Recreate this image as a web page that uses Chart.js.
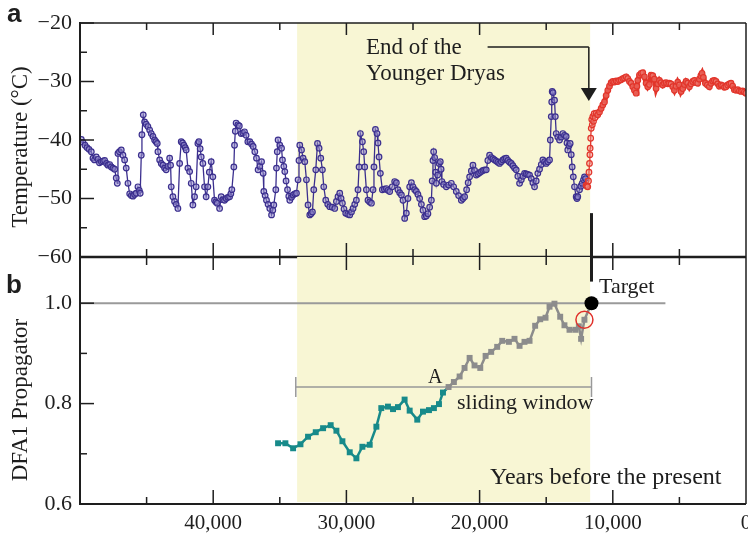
<!DOCTYPE html>
<html>
<head>
<meta charset="utf-8">
<script src="https://cdn.jsdelivr.net/npm/chart.js@4.4.1/dist/chart.umd.min.js"></script>
<style>
  html, body { margin: 0; padding: 0; background: #fff; }
  #wrap { position: relative; width: 748px; height: 534px; }
  #wrap canvas { position: absolute; left: 0; top: 0; }
</style>
</head>
<body>
<div id="wrap">
  <canvas id="tempChart" width="748" height="534"></canvas>
  <canvas id="dfaChart" width="748" height="534"></canvas>
</div>
<script>
/* =========================
   Data (years before present)
========================= */
const blueYears = [49900,49775,49625,49475,49325,49150,49025,48910,48780,48650,48540,48400,48275,48150,48010,47900,47770,47650,47525,47400,47280,47200,47150,47040,46900,46775,46650,46530,46400,46270,46150,46025,45900,45780,45650,45550,45480,45400,45350,45250,45150,45030,44900,44770,44650,44525,44400,44300,44200,44150,44020,43900,43775,43650,43530,43400,43270,43200,43150,43025,42900,42780,42650,42520,42400,42300,42200,42100,42030,41900,41770,41650,41525,41400,41280,41150,41075,40980,40900,40775,40650,40530,40400,40290,40150,40025,39900,39800,39700,39520,39400,39275,39150,39030,38900,38770,38675,38600,38450,38400,38340,38280,38150,38040,37900,37775,37650,37530,37400,37250,37120,37000,36875,36750,36630,36500,36370,36250,36200,36100,36000,35880,35750,35620,35525,35450,35300,35250,35190,35130,35000,34870,34800,34700,34625,34530,34420,34325,34250,34120,34000,33875,33750,33630,33560,33500,33370,33250,33125,33000,32880,32750,32650,32550,32450,32300,32170,32050,31925,31800,31700,31550,31400,31250,31060,30875,30750,30630,30500,30400,30300,30180,30050,29900,29750,29620,29500,29375,29250,29130,29050,28950,28800,28700,28625,28500,28380,28250,28120,28000,27930,27820,27700,27630,27550,27450,27300,27150,27000,26880,26750,26560,26375,26250,26130,26000,25870,25750,25625,25500,25380,25250,25120,25000,24875,24750,24630,24500,24370,24250,24125,24000,23880,23750,23620,23560,23500,23450,23375,23300,23250,23150,23040,22950,22890,22830,22700,22500,22325,22120,21950,21750,21575,21370,21250,21125,20975,20860,20750,20620,20500,20375,20250,20130,20000,19870,19750,19625,19500,19380,19250,19120,19000,18875,18750,18630,18500,18370,18250,18125,18000,17880,17750,17620,17500,17375,17250,17130,17000,16870,16750,16625,16500,16380,16250,16120,16000,15875,15750,15630,15500,15370,15250,15125,15000,14880,14750,14690,14620,14585,14550,14490,14375,14315,14250,14130,14000,13870,13750,13625,13500,13440,13380,13290,13200,13120,13050,12965,12875,12750,12690,12630,12500,12400,12300,12200,12125,12050];
const blueTemps = [-39.9,-40.4,-40.9,-41.3,-41.6,-42.0,-43.1,-43.4,-42.9,-43.3,-43.9,-43.7,-43.6,-43.5,-44.0,-44.3,-44.2,-44.6,-44.8,-45.0,-46.5,-47.4,-42.3,-42.0,-41.7,-42.6,-43.4,-44.8,-47.4,-49.2,-49.5,-49.6,-49.3,-49.1,-48.0,-48.6,-49.1,-42.6,-39.1,-35.7,-36.9,-37.3,-37.7,-38.3,-38.9,-39.4,-40.0,-40.3,-40.6,-42.0,-43.4,-44.0,-44.3,-44.8,-45.1,-44.5,-43.1,-44.3,-48.0,-49.7,-50.5,-51.0,-51.7,-44.0,-40.3,-40.5,-40.9,-41.3,-41.7,-44.8,-45.4,-47.4,-51.1,-49.7,-48.0,-40.6,-40.3,-41.5,-42.9,-44.0,-48.0,-49.7,-48.0,-45.5,-43.7,-46.3,-50.3,-50.6,-50.8,-51.7,-49.7,-50.2,-50.3,-50.0,-49.8,-49.7,-49.2,-48.5,-44.6,-40.9,-38.5,-37.1,-37.4,-37.6,-38.9,-38.8,-38.6,-39.2,-40.3,-40.3,-40.7,-41.1,-42.0,-43.1,-45.1,-44.5,-43.7,-45.7,-48.8,-49.5,-50.3,-51.0,-51.7,-52.8,-52.0,-51.1,-48.5,-44.8,-42.0,-40.0,-40.9,-41.4,-43.4,-44.5,-45.4,-47.0,-48.5,-49.6,-50.3,-49.8,-49.4,-49.2,-49.1,-46.8,-43.5,-40.9,-41.7,-43.1,-43.7,-46.8,-51.1,-52.8,-52.6,-52.3,-48.5,-45.1,-40.6,-41.4,-43.1,-45.1,-48.0,-50.3,-51.0,-51.4,-51.5,-51.7,-50.5,-49.7,-49.1,-50.0,-50.8,-51.8,-52.5,-52.7,-52.8,-52.3,-51.7,-51.0,-50.3,-48.5,-44.6,-38.9,-40.3,-42.0,-44.6,-48.5,-50.3,-50.6,-50.8,-48.5,-44.6,-38.2,-38.9,-40.5,-42.9,-45.7,-48.5,-48.4,-48.3,-48.6,-48.8,-48.0,-47.1,-47.3,-48.5,-49.0,-49.4,-50.3,-53.4,-52.5,-50.0,-48.0,-47.3,-48.0,-48.5,-48.8,-49.3,-50.0,-51.0,-52.0,-53.1,-53.0,-52.6,-51.5,-50.3,-47.0,-43.5,-42.0,-43.0,-45.5,-47.4,-46.0,-44.0,-43.7,-45.0,-47.1,-47.6,-48.0,-47.7,-47.4,-48.0,-48.8,-49.5,-50.3,-50.0,-49.7,-48.5,-47.3,-46.3,-45.3,-44.3,-45.2,-46.0,-45.8,-45.6,-45.4,-45.2,-45.1,-45.1,-43.5,-42.6,-43.0,-43.2,-43.4,-43.6,-43.8,-44.0,-43.7,-43.4,-43.2,-43.1,-43.5,-43.8,-44.0,-44.4,-44.8,-45.1,-46.2,-47.4,-46.8,-46.2,-45.7,-45.8,-45.9,-46.0,-46.6,-47.3,-48.0,-47.0,-45.7,-45.0,-44.2,-43.4,-43.7,-44.0,-43.7,-43.4,-40.0,-36.0,-33.5,-31.7,-31.9,-33.2,-36.0,-38.9,-39.5,-40.0,-39.5,-38.9,-39.2,-39.4,-40.5,-41.7,-41.0,-40.6,-42.5,-44.6,-46.3,-48.0,-49.7,-50.0,-49.7,-48.5,-47.9,-47.4,-46.8,-46.3,-46.6];

const redYears = [12000,11940,11880,11825,11790,11750,11720,11700,11660,11620,11580,11540,11500,11450,11400,11340,11250,11130,11000,10875,10750,10625,10500,10375,10250,10125,10000,9875,9750,9625,9500,9375,9250,9125,9000,8875,8750,8625,8500,8375,8250,8190,8125,8000,7875,7750,7625,7500,7375,7250,7125,7000,6875,6750,6625,6500,6375,6250,6125,6000,5875,5750,5625,5500,5375,5250,5125,5000,4875,4750,4625,4500,4375,4250,4125,4000,3875,3750,3625,3500,3390,3300,3200,3050,2900,2750,2625,2500,2375,2250,2125,2000,1875,1750,1625,1500,1375,1250,1125,1000,875,750,625,500,375,250,125,10];
const redTemps = [-47.7,-47.9,-48.0,-47.0,-45.5,-44.0,-42.5,-41.4,-39.7,-38.0,-36.5,-37.4,-36.0,-36.8,-35.5,-36.2,-35.4,-35.7,-35.2,-34.6,-34.0,-33.5,-32.4,-31.5,-30.8,-30.2,-30.0,-30.1,-29.9,-30.0,-29.8,-29.7,-29.5,-29.4,-29.2,-29.5,-30.0,-30.3,-30.9,-31.5,-32.0,-30.8,-29.8,-28.9,-28.6,-28.5,-29.2,-30.3,-30.9,-30.5,-28.9,-29.0,-29.6,-31.2,-30.4,-29.8,-30.2,-30.6,-30.3,-30.2,-30.4,-30.3,-30.4,-30.9,-31.5,-30.8,-30.1,-30.6,-31.7,-31.2,-30.5,-30.0,-30.3,-30.9,-30.4,-30.0,-29.8,-30.2,-30.3,-29.6,-29.0,-28.6,-29.3,-30.3,-30.6,-30.9,-30.3,-29.9,-29.8,-30.0,-30.4,-30.8,-30.6,-30.7,-31.0,-30.9,-30.6,-30.4,-30.3,-30.8,-31.4,-31.5,-31.4,-31.6,-31.7,-31.6,-31.8,-32.0];

const tealYears = [35130,34580,34000,33450,32880,32300,31750,31180,30750,30300,29750,29250,28800,28250,27750,27380,26880,26500,26130,25630,25250,24680,24250,23800,23430,23050,22750];
const tealValues = [0.721,0.721,0.711,0.719,0.734,0.743,0.751,0.757,0.746,0.725,0.703,0.691,0.714,0.718,0.754,0.791,0.794,0.789,0.793,0.808,0.786,0.768,0.784,0.787,0.791,0.799,0.822];

const grayYears = [22330,21930,21500,21130,20750,20380,19950,19550,19130,18680,18300,17800,17380,17000,16630,16250,15830,15450,15050,14750,14380,13950,13630,13250,12800,12550,12380,12130,11600];
const grayValues = [0.833,0.843,0.854,0.871,0.891,0.876,0.871,0.895,0.903,0.913,0.925,0.923,0.929,0.915,0.923,0.925,0.955,0.968,0.971,0.993,0.999,0.973,0.956,0.947,0.947,0.954,0.929,0.967,1.0];

const targetYears = [11600];
const targetValues = [1.0];
const markedYears = [12130];
const markedValues = [0.967];

/* axes + annotations */
const xLabelYears = [40000, 30000, 20000, 10000, 0];
const xTickYears = [45000, 40000, 35000, 30000, 25000, 20000, 15000, 10000, 5000];
const tempLabels = [-20, -30, -40, -50, -60];
const tempMinor = [-25, -35, -45, -55];
const dfaLabels = [0.6, 0.8, 1.0];
const dfaMinor = [0.7, 0.9];
const shadedEra = [33700, 11700];
const dryasEndYear = 11800;
const windowYears = [33800, 11600];
const windowLevel = 0.833;
const refLevel = 1.0;
const refLineEndYear = 6050;

const SERIF = '"Liberation Serif", "Times New Roman", serif';
const SANS = '"Liberation Sans", Arial, sans-serif';
const INK = '#1e1e1e';
const SHADE = '#f8f6d4';

/* =========================
   Drawing helpers
========================= */
function seg(ctx, x1, y1, x2, y2, w, color) {
  ctx.beginPath();
  ctx.lineWidth = w;
  ctx.strokeStyle = color || INK;
  ctx.moveTo(x1, y1);
  ctx.lineTo(x2, y2);
  ctx.stroke();
}

function text(ctx, str, x, y, size, opts = {}) {
  ctx.save();
  ctx.font = (opts.bold ? 'bold ' : '') + size + 'px ' + (opts.family || SERIF);
  ctx.fillStyle = INK;
  ctx.textAlign = opts.align || 'left';
  ctx.textBaseline = 'alphabetic';
  if (opts.rotate) {
    ctx.translate(x, y);
    ctx.rotate(-Math.PI / 2);
    ctx.fillText(str, 0, 0);
  } else {
    ctx.fillText(str, x, y);
  }
  ctx.restore();
}

function xTicks(ctx, xs, yEdge, dir, major, minor) {
  xTickYears.forEach(v => {
    const x = xs.getPixelForValue(v);
    const len = v % 10000 === 0 ? major : minor;
    seg(ctx, x, yEdge, x, yEdge + dir * len, 1.5);
  });
}

function yTicks(ctx, ys, left, majors, minors) {
  majors.forEach(v => {
    const y = ys.getPixelForValue(v);
    seg(ctx, left, y, left + 14, y, 1.5);
  });
  minors.forEach(v => {
    const y = ys.getPixelForValue(v);
    seg(ctx, left, y, left + 7, y, 1.5);
  });
}

function shadeBand(chart, bottomInset) {
  const { ctx, chartArea: a, scales: { x } } = chart;
  const x1 = x.getPixelForValue(shadedEra[0]);
  const x2 = x.getPixelForValue(shadedEra[1]);
  ctx.save();
  ctx.fillStyle = SHADE;
  ctx.fillRect(x1, a.top, x2 - x1, a.bottom - a.top - bottomInset);
  ctx.restore();
}

/* =========================
   Panel a decorations
========================= */
const tempDecor = {
  id: 'tempDecor',
  beforeDatasetsDraw(chart) {
    shadeBand(chart, 0);
  },
  afterDatasetsDraw(chart) {
    const { ctx, chartArea: a, scales: { x, y } } = chart;
    ctx.save();
    ctx.lineCap = 'butt';

    // frame
    seg(ctx, a.left, a.top, a.right, a.top, 1.5);
    seg(ctx, a.right, a.top, a.right, a.bottom, 1.5);
    seg(ctx, a.left, a.top - 1, a.left, a.bottom + 1, 2);
    seg(ctx, a.left, a.bottom, a.right, a.bottom, 2.5);

    xTicks(ctx, x, a.top, 1, 12, 7);
    xTicks(ctx, x, a.bottom, -1, 14, 8);
    yTicks(ctx, y, a.left, tempLabels, tempMinor);

    // end of the Younger Dryas marker line (continues into panel b)
    const tx = x.getPixelForValue(targetYears[0]);
    seg(ctx, tx, y.getPixelForValue(-52.5), tx, a.bottom, 3);

    // arrow
    const ax = x.getPixelForValue(dryasEndYear);
    const ay = 47;
    seg(ctx, x.getPixelForValue(19400), ay, ax, ay, 1.5);
    seg(ctx, ax, ay, ax, 90, 1.5);
    ctx.beginPath();
    ctx.fillStyle = INK;
    ctx.moveTo(ax - 8, 88);
    ctx.lineTo(ax + 8, 88);
    ctx.lineTo(ax, 101);
    ctx.closePath();
    ctx.fill();

    text(ctx, 'End of the', 366, 54, 23);
    text(ctx, 'Younger Dryas', 366, 80, 23);
    text(ctx, 'a', 7, 22, 26, { bold: true, family: SANS });
    text(ctx, 'Temperature (\u00B0C)', 27, 147, 23, { rotate: true, align: 'center' });
    ctx.restore();
  }
};

/* =========================
   Panel b decorations
========================= */
const dfaDecor = {
  id: 'dfaDecor',
  beforeDatasetsDraw(chart) {
    const { ctx, chartArea: a, scales: { x, y } } = chart;
    shadeBand(chart, 2);
    ctx.save();
    // reference level 1.0
    const ry = y.getPixelForValue(refLevel);
    seg(ctx, a.left, ry, x.getPixelForValue(refLineEndYear), ry, 2, '#9a9a9a');
    // sliding window bracket
    const wy = y.getPixelForValue(windowLevel);
    const w1 = x.getPixelForValue(windowYears[0]);
    const w2 = x.getPixelForValue(windowYears[1]);
    seg(ctx, w1, wy, w2, wy, 1.5, '#999');
    seg(ctx, w1, wy - 10, w1, wy + 10, 1.5, '#999');
    seg(ctx, w2, wy - 10, w2, wy + 10, 1.5, '#999');
    ctx.restore();
  },
  afterDatasetsDraw(chart) {
    const { ctx, chartArea: a, scales: { x, y } } = chart;
    ctx.save();
    seg(ctx, a.right, a.top, a.right, a.bottom, 1.5);
    seg(ctx, a.left, a.top - 1, a.left, a.bottom + 1, 2);
    seg(ctx, a.left, a.bottom, a.right, a.bottom, 2);

    xTicks(ctx, x, a.top, 1, 13, 8);
    xTicks(ctx, x, a.bottom, -1, 14, 7);
    yTicks(ctx, y, a.left, dfaLabels, dfaMinor);

    const tx = x.getPixelForValue(targetYears[0]);
    seg(ctx, tx, a.top, tx, y.getPixelForValue(1.043), 3);

    text(ctx, 'Target', 599, 293, 22);
    text(ctx, 'A', 428, 383, 20);
    text(ctx, 'sliding window', 457, 409, 22);
    text(ctx, 'Years before the present', 490, 484, 24);
    text(ctx, 'b', 6, 293, 26, { bold: true, family: SANS });
    text(ctx, 'DFA1 Propagator', 27, 400, 23, { rotate: true, align: 'center' });
    ctx.restore();
  }
};

/* =========================
   Shared options
========================= */
const baseOptions = {
  responsive: false,
  animation: false,
  events: [],
  plugins: { legend: { display: false }, tooltip: { enabled: false } }
};

function pairs(xs, ys) {
  return xs.map((v, i) => ({ x: v, y: ys[i] }));
}

function yAxis(min, max, labels, fmt) {
  return {
    type: 'linear',
    min: min,
    max: max,
    afterFit: s => { s.width = 80; s.paddingTop = 0; s.paddingBottom = 0; },
    afterBuildTicks: s => { s.ticks = labels.map(v => ({ value: v })); },
    grid: { display: false, drawTicks: false },
    border: { display: false },
    ticks: {
      color: INK,
      padding: 8,
      font: { family: SERIF, size: 22 },
      callback: fmt
    }
  };
}

/* =========================
   Panel a: temperature
========================= */
const blueData = pairs(blueYears, blueTemps);
const redData = [blueData[blueData.length - 1]].concat(pairs(redYears, redTemps));

new Chart(document.getElementById('tempChart'), {
  type: 'line',
  data: {
    datasets: [
      {
        data: redData,
        borderColor: '#e2352b',
        borderWidth: 1.3,
        segment: { borderWidth: c => (c.p0.parsed.x <= 11300 ? 5 : 1.3) },
        pointRadius: c => (c.dataIndex === 0 ? 0 : 2.8),
        pointBorderColor: '#e2352b',
        pointBackgroundColor: 'rgba(240,140,130,0.45)',
        pointBorderWidth: 1.2,
        tension: 0
      },
      {
        data: blueData,
        borderColor: '#3b2f8e',
        borderWidth: 1.3,
        pointRadius: 2.8,
        pointBorderColor: '#3b2f8e',
        pointBackgroundColor: 'rgba(150,140,205,0.55)',
        pointBorderWidth: 1.2,
        tension: 0
      }
    ]
  },
  options: {
    ...baseOptions,
    layout: { autoPadding: false, padding: { top: 23, right: 2, bottom: 277, left: 0 } },
    scales: {
      x: { type: 'linear', reverse: true, min: 0, max: 50000, display: false },
      y: yAxis(-60, -20, tempLabels, v => (v < 0 ? '\u2212' : '') + Math.abs(v))
    }
  },
  plugins: [tempDecor]
});

/* =========================
   Panel b: DFA1 propagator
========================= */
const tealData = pairs(tealYears, tealValues);
const grayData = pairs(grayYears, grayValues);

new Chart(document.getElementById('dfaChart'), {
  type: 'line',
  data: {
    datasets: [
      {
        data: pairs(targetYears, targetValues),
        showLine: false,
        pointRadius: 7,
        pointBackgroundColor: '#000',
        pointBorderWidth: 0
      },
      {
        data: pairs(markedYears, markedValues),
        showLine: false,
        pointRadius: 8.5,
        pointBackgroundColor: 'rgba(0,0,0,0)',
        pointBorderColor: '#e0302a',
        pointBorderWidth: 1.5
      },
      {
        data: grayData,
        borderColor: '#8c8c8c',
        borderWidth: 2.5,
        pointStyle: 'rect',
        pointRadius: c => (c.dataIndex === grayData.length - 1 ? 0 : 4.2),
        pointBackgroundColor: '#8c8c8c',
        pointBorderWidth: 0,
        tension: 0
      },
      {
        data: tealData.concat([grayData[0]]),
        borderColor: '#178a8a',
        borderWidth: 2.5,
        pointStyle: 'rect',
        pointRadius: c => (c.dataIndex === tealData.length ? 0 : 4.2),
        pointBackgroundColor: '#178a8a',
        pointBorderWidth: 0,
        tension: 0
      }
    ]
  },
  options: {
    ...baseOptions,
    layout: { autoPadding: false, padding: { top: 257, right: 2, bottom: 0, left: 0 } },
    scales: {
      x: {
        type: 'linear',
        reverse: true,
        min: 0,
        max: 50000,
        afterFit: s => { s.height = 30; s.paddingLeft = 0; s.paddingRight = 0; },
        afterBuildTicks: s => { s.ticks = xLabelYears.map(v => ({ value: v })); },
        grid: { display: false, drawTicks: false },
        border: { display: false },
        ticks: {
          color: INK,
          padding: 7,
          maxRotation: 0,
          autoSkip: false,
          font: { family: SERIF, size: 21 },
          callback: v => v.toLocaleString('en-US')
        }
      },
      y: yAxis(0.6, 1.092, dfaLabels, v => v.toFixed(1))
    }
  },
  plugins: [dfaDecor]
});
</script>
</body>
</html>
